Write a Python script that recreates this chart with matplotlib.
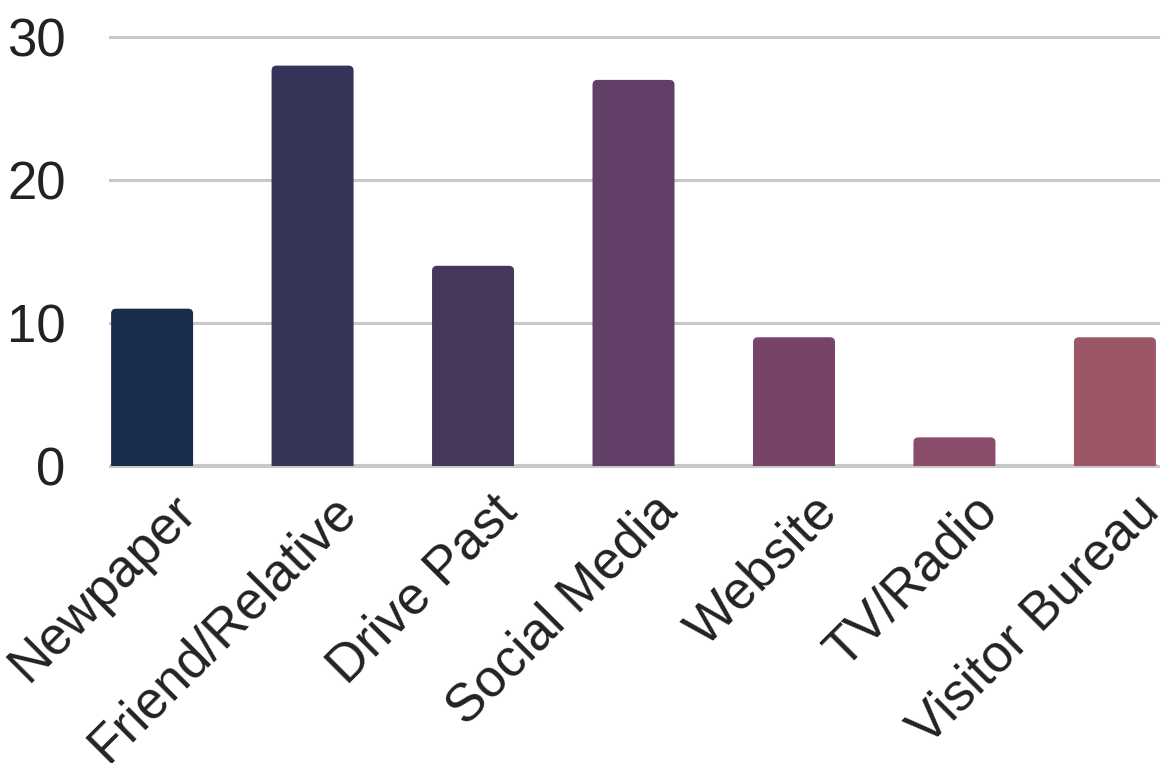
import matplotlib
matplotlib.use('Agg')
import matplotlib.pyplot as plt
from matplotlib.patches import FancyBboxPatch
from matplotlib.transforms import ScaledTranslation

categories = ['Newpaper', 'Friend/Relative', 'Drive Past', 'Social Media',
              'Website', 'TV/Radio', 'Visitor Bureau']
counts = [11, 28, 14, 27, 9, 2, 9]
bar_colors = ['#1b2d4c', '#35355a', '#47385b', '#623f67',
              '#774467', '#8a4c6b', '#9c5767']
y_ticks = [0, 10, 20, 30]

plt.rcParams['font.family'] = ['Liberation Sans', 'DejaVu Sans']

fig = plt.figure(figsize=(11.72, 7.63), dpi=100)
ax = fig.add_axes([0.0939, 0.3893, 0.8941, 0.5622])

x = list(range(len(categories)))
bars = ax.bar(x, counts, width=0.511, color=bar_colors, zorder=3)

# rounded tops: rounded patch starts below zero so the axes clip its bottom corners
for rect, c in zip(bars, bar_colors):
    x0, y0 = rect.get_xy()
    w, h = rect.get_width(), rect.get_height()
    fb = FancyBboxPatch((x0, y0 - 1), w, h + 1,
                        boxstyle='round,pad=0,rounding_size=0.031',
                        mutation_aspect=11.2, facecolor=c, edgecolor='none', zorder=3)
    ax.add_patch(fb)
    rect.set_visible(False)

ax.set_ylim(0, 30)
ax.set_xlim(-0.262, 6.268)
ax.set_yticks(y_ticks)
ax.yaxis.grid(True, color='#c8c8c8', linewidth=2.2, zorder=0)
for gl in ax.get_ygridlines():
    gl.set_clip_on(False)
ax.axhline(0, color='#c8c8c8', linewidth=3, zorder=2)

for s in ax.spines.values():
    s.set_visible(False)

ax.tick_params(axis='both', length=0, labelsize=38, labelcolor='#222222')
ax.tick_params(axis='y', pad=32)
ax.tick_params(axis='x', pad=27)
ax.set_xticks(x)
ax.set_xticklabels(categories, rotation=45, ha='right', va='center',
                   rotation_mode='anchor')
offset = ScaledTranslation(0.36, 0, fig.dpi_scale_trans)
for lab in ax.get_xticklabels():
    lab.set_transform(lab.get_transform() + offset)

fig.savefig('out.png', dpi=100)
